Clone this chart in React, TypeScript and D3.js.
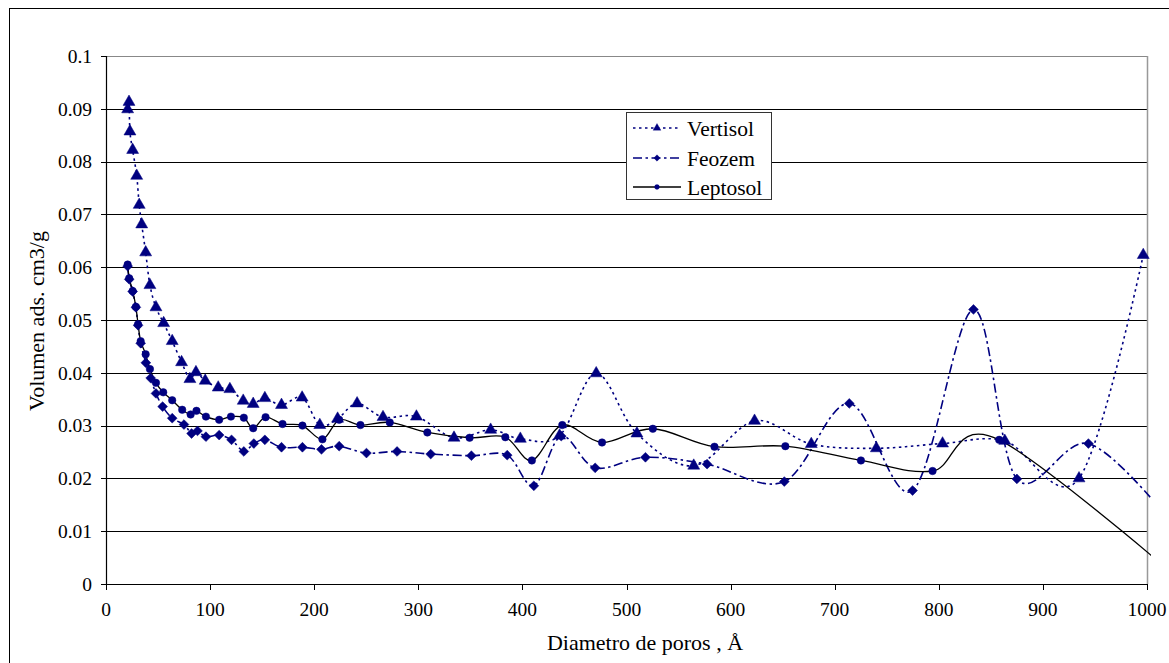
import React from "react";
import * as d3 from "d3";

const xTicks = [0, 100, 200, 300, 400, 500, 600, 700, 800, 900, 1000];
const yTicks = [0, 0.01, 0.02, 0.03, 0.04, 0.05, 0.06, 0.07, 0.08, 0.09, 0.1];
const yTickLabels = ["0", "0.01", "0.02", "0.03", "0.04", "0.05", "0.06", "0.07", "0.08", "0.09", "0.1"];

const seriesNames = ["Vertisol", "Feozem", "Leptosol"];

const vertisolX = [20.8, 22.1, 23, 25.6, 29.5, 31.9, 34.3, 38.1, 42.2, 48, 55.4, 63.6, 72.6, 80.6, 86.4, 95.3, 107.8, 119, 131.8, 141.4, 152.6, 168.6, 188.4, 205.4, 222.5, 241.2, 266.1, 298.2, 334.3, 369.5, 398, 435.7, 470.9, 510, 564.6, 623, 677.5, 740, 803.6, 863.4, 934.7, 996.4];
const vertisolY = [0.0899, 0.0913, 0.0857, 0.0822, 0.0773, 0.0718, 0.0681, 0.0628, 0.0566, 0.0524, 0.0494, 0.046, 0.042, 0.0388, 0.0401, 0.0385, 0.0372, 0.0369, 0.0347, 0.0341, 0.0352, 0.0339, 0.0353, 0.0301, 0.0313, 0.0342, 0.0316, 0.0317, 0.0277, 0.0292, 0.0275, 0.0281, 0.0399, 0.0285, 0.0224, 0.0309, 0.0265, 0.0257, 0.0266, 0.0271, 0.02, 0.0623];

const feozemX = [20.8, 22.3, 25.6, 28.7, 30.8, 33.3, 38.3, 42.9, 48, 54.4, 63.6, 74.9, 82.2, 87.9, 96, 108.7, 120.6, 132.4, 142, 152.6, 168.6, 188.7, 207, 224, 250.2, 279.6, 311.9, 351, 385.4, 411, 437.3, 469.9, 518.2, 577.4, 651.6, 714, 774.8, 833.3, 875, 943.7, 1020];
const feozemY = [0.0602, 0.0577, 0.0554, 0.0524, 0.049, 0.0456, 0.0419, 0.039, 0.0361, 0.0336, 0.0314, 0.0302, 0.0285, 0.029, 0.0279, 0.0282, 0.0273, 0.0251, 0.0266, 0.0273, 0.0259, 0.0259, 0.0255, 0.0261, 0.0248, 0.0251, 0.0246, 0.0243, 0.0244, 0.0186, 0.028, 0.022, 0.024, 0.0227, 0.0194, 0.0342, 0.0177, 0.052, 0.0199, 0.0266, 0.0125];

const leptosolX = [20.8, 22.3, 25.6, 28.7, 30.8, 33.3, 38.1, 42.2, 48, 55, 63.6, 73.2, 81.3, 86.9, 96, 108.7, 120, 132.4, 141.4, 153.3, 169.6, 188.7, 207.9, 224, 244.4, 272.6, 308.7, 349.3, 383.6, 409.1, 438.3, 476.5, 525.3, 584.5, 652.6, 725.2, 794, 858, 1060];
const leptosolY = [0.0605, 0.0579, 0.0555, 0.0525, 0.0492, 0.046, 0.0435, 0.0407, 0.0381, 0.0363, 0.0348, 0.033, 0.0321, 0.0328, 0.0317, 0.0311, 0.0317, 0.0315, 0.0295, 0.0316, 0.0303, 0.03, 0.0274, 0.0311, 0.0301, 0.0306, 0.0287, 0.0277, 0.0278, 0.0234, 0.0301, 0.0268, 0.0294, 0.026, 0.0261, 0.0234, 0.0214, 0.0273, -0.004];

const W = 1169;
const H = 663;
const M = { left: 106, right: 1147, top: 56, bottom: 584 };
const FONT = "Liberation Serif, Times New Roman, Tinos, DejaVu Serif, serif";
const NAVY = "#000080";

type Pt = [number, number];

function zip(xs: number[], ys: number[]): Pt[] {
  return xs.map((x, i) => [x, ys[i]] as Pt);
}

const triPath = d3.symbol().type(d3.symbolTriangle).size(62)()!;
const diaPath = d3.symbol().type(d3.symbolSquare).size(48)()!;
const cirPath = d3.symbol().type(d3.symbolCircle).size(44)()!;

const textStyle: React.CSSProperties = { fontFamily: FONT };

export default function App() {
  const x = d3.scaleLinear().domain([0, 1000]).range([M.left, M.right]);
  const y = d3.scaleLinear().domain([0, 0.1]).range([M.bottom, M.top]);
  const line = d3
    .line<Pt>()
    .x((d) => x(d[0]))
    .y((d) => y(d[1]))
    .curve(d3.curveCardinal.tension(0));

  const series = [
    { name: seriesNames[0], pts: zip(vertisolX, vertisolY), stroke: NAVY, dash: "2.5,3.5", width: 1.6, marker: triPath, rot: 0 },
    { name: seriesNames[1], pts: zip(feozemX, feozemY), stroke: NAVY, dash: "9,3.5,2.5,3.5", width: 1.6, marker: diaPath, rot: 45 },
    { name: seriesNames[2], pts: zip(leptosolX, leptosolY), stroke: "#000", dash: "none", width: 1.3, marker: cirPath, rot: 0 },
  ];

  const inDomain = (d: Pt) => d[0] >= 0 && d[0] <= 1000 && d[1] >= 0 && d[1] <= 0.1;

  const legendX = 626;
  const legendY = 112;
  const legendRows = [128, 158, 187];

  return (
    <svg width={W} height={H} style={{ position: "absolute", left: 0, top: 0, background: "#fff" }}>
      <defs>
        <clipPath id="plotclip">
          <rect x={M.left} y={M.top - 10} width={M.right - M.left + 4} height={M.bottom - M.top + 10} />
        </clipPath>
      </defs>
      <rect x={9.5} y={8.5} width={1200} height={700} fill="#fff" stroke="#000" strokeWidth={1} />

      {/* gridlines */}
      {yTicks.map((t) => (
        <line key={"g" + t} x1={M.left} x2={M.right} y1={Math.round(y(t)) + 0.5} y2={Math.round(y(t)) + 0.5} stroke={t === 0.1 ? "#888" : "#000"} strokeWidth={1} />
      ))}
      {/* right border */}
      <line x1={M.right + 0.5} x2={M.right + 0.5} y1={M.top} y2={M.bottom} stroke="#999" strokeWidth={1.5} />

      {/* axes */}
      <line x1={M.left + 0.5} x2={M.left + 0.5} y1={M.top} y2={M.bottom + 1} stroke="#000" strokeWidth={1.2} />
      <line x1={M.left} x2={M.right + 1} y1={M.bottom + 0.5} y2={M.bottom + 0.5} stroke="#000" strokeWidth={1.2} />
      {yTicks.map((t, i) => (
        <g key={"yt" + t}>
          <line x1={M.left - 5} x2={M.left} y1={Math.round(y(t)) + 0.5} y2={Math.round(y(t)) + 0.5} stroke="#000" />
          <text x={92} y={y(t)} dy="0.35em" textAnchor="end" fontSize={19.5} fill="#000" style={textStyle}>
            {yTickLabels[i]}
          </text>
        </g>
      ))}
      {xTicks.map((t) => (
        <g key={"xt" + t}>
          <line x1={Math.round(x(t)) + 0.5} x2={Math.round(x(t)) + 0.5} y1={M.bottom} y2={M.bottom + 6} stroke="#000" />
          <text x={x(t)} y={616} textAnchor="middle" fontSize={19.5} fill="#000" style={textStyle}>
            {t}
          </text>
        </g>
      ))}

      {/* axis titles */}
      <text x={645} y={650} textAnchor="middle" fontSize={22} fill="#000" style={textStyle}>
        Diametro de poros , Å
      </text>
      <text transform={`translate(44,321) rotate(-90)`} textAnchor="middle" fontSize={22} fill="#000" style={textStyle}>
        Volumen ads. cm3/g
      </text>

      {/* series */}
      <g clipPath="url(#plotclip)">
        {series.map((s) => (
          <path key={s.name} d={line(s.pts) || ""} fill="none" stroke={s.stroke} strokeWidth={s.width} strokeDasharray={s.dash} />
        ))}
      </g>
      {series.map((s) => (
        <g key={s.name + "m"}>
          {s.pts.filter(inDomain).map((d, i) => (
            <path key={i} d={s.marker} transform={`translate(${x(d[0])},${y(d[1])}) rotate(${s.rot})`} fill={NAVY} stroke={NAVY} strokeWidth={0.5} />
          ))}
        </g>
      ))}

      {/* legend */}
      <rect x={legendX + 0.5} y={legendY + 0.5} width={145} height={87} fill="#fff" stroke="#333" strokeWidth={1} />
      {series.map((s, i) => (
        <g key={s.name + "lg"}>
          <line x1={633} x2={681} y1={legendRows[i]} y2={legendRows[i]} stroke={s.stroke} strokeWidth={s.width} strokeDasharray={s.dash} />
          <path d={s.marker} transform={`translate(657,${legendRows[i]}) rotate(${s.rot}) scale(0.65)`} fill={NAVY} stroke={NAVY} strokeWidth={0.5} />
          <text x={687} y={legendRows[i]} dy="0.35em" fontSize={21.5} fill="#000" style={textStyle}>
            {s.name}
          </text>
        </g>
      ))}
    </svg>
  );
}
